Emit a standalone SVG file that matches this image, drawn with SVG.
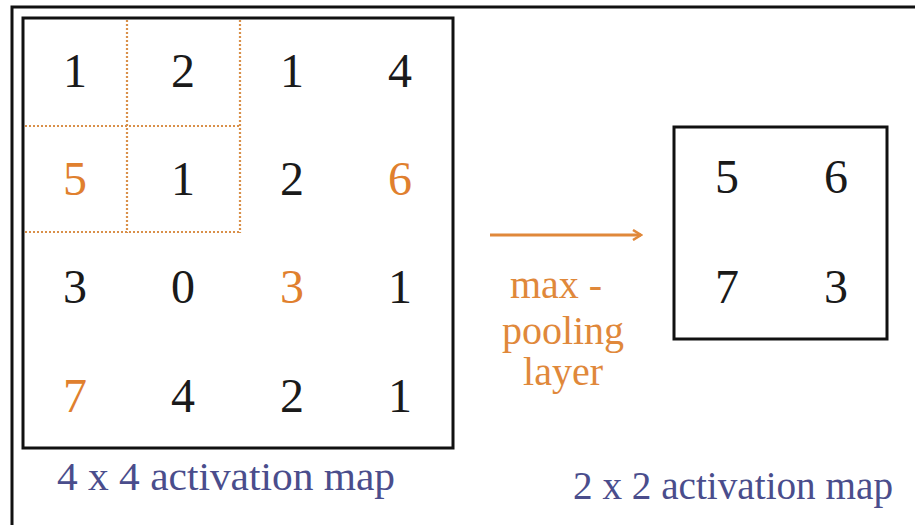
<svg xmlns="http://www.w3.org/2000/svg" width="915" height="525" viewBox="0 0 915 525">
<defs>
<style>
.box{fill:none;stroke:#111;stroke-width:3}
.dot{stroke:#d9904a;stroke-width:2.2;stroke-dasharray:2 2;fill:none}
.num{font-family:"Liberation Serif",serif;font-size:48px;text-anchor:middle;fill:#1a1a1a}
.hi{fill:#e0802e}
.cap{font-family:"Liberation Serif",serif;font-size:40px;fill:#4a4d8c}
.op{font-family:"Liberation Serif",serif;font-size:40px;fill:#e0883a;text-anchor:middle}
</style>
<marker id="ah" viewBox="0 0 12 12" refX="10" refY="6" markerWidth="12" markerHeight="12" markerUnits="userSpaceOnUse" orient="auto">
<path d="M2,1 L10,6 L2,11" fill="none" stroke="#e0883a" stroke-width="2.5"/>
</marker>
</defs>
<rect width="915" height="525" fill="#fff"/>
<path d="M12,525 V7 H915" fill="none" stroke="#111" stroke-width="3"/>
<g id="map4">
<rect class="box" x="23" y="18" width="430" height="430"/>
<path class="dot" d="M127,20 V233 M240,20 V233 M25,126 H240 M25,232 H240"/>
<text class="num" x="75" y="87">1</text>
<text class="num" x="183" y="87">2</text>
<text class="num" x="292" y="87">1</text>
<text class="num" x="400" y="87">4</text>
<text class="num hi" x="75" y="195">5</text>
<text class="num" x="183" y="195">1</text>
<text class="num" x="292" y="195">2</text>
<text class="num hi" x="400" y="195">6</text>
<text class="num" x="75" y="303">3</text>
<text class="num" x="183" y="303">0</text>
<text class="num hi" x="292" y="303">3</text>
<text class="num" x="400" y="303">1</text>
<text class="num hi" x="75" y="412">7</text>
<text class="num" x="183" y="412">4</text>
<text class="num" x="292" y="412">2</text>
<text class="num" x="400" y="412">1</text>
<text class="cap" x="57" y="490" textLength="338" lengthAdjust="spacingAndGlyphs">4 x 4 activation map</text>
</g>
<g id="connectors">
<line x1="490" y1="235" x2="641" y2="235" stroke="#e0883a" stroke-width="3" marker-end="url(#ah)"/>
</g>
<g id="pool-label">
<text class="op" x="556" y="298">max -</text>
<text class="op" x="563" y="344">pooling</text>
<text class="op" x="563" y="385">layer</text>
</g>
<g id="map2">
<rect class="box" x="674" y="127" width="213" height="212"/>
<text class="num" x="727" y="193">5</text>
<text class="num" x="836" y="193">6</text>
<text class="num" x="727" y="303">7</text>
<text class="num" x="836" y="303">3</text>
<text class="cap" x="573" y="499" textLength="320" lengthAdjust="spacingAndGlyphs">2 x 2 activation map</text>
</g>
</svg>
